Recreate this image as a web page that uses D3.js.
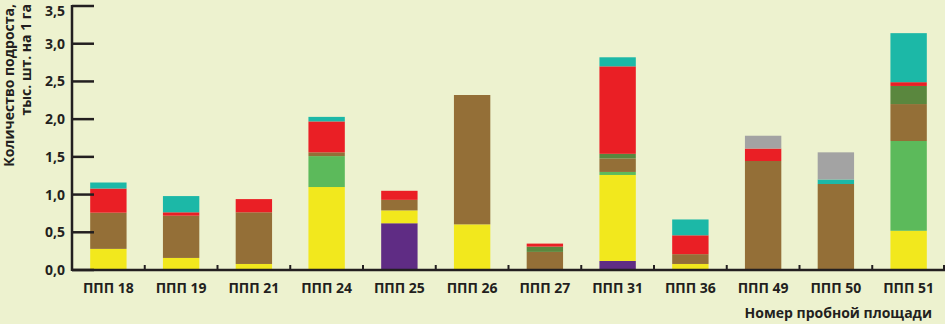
<!DOCTYPE html>
<html>
<head>
<meta charset="utf-8">
<script src="https://cdn.jsdelivr.net/npm/d3@7"></script>
<style>
  html, body { margin: 0; padding: 0; background: #edf2cf; }
  svg { display: block; }
  text { font-family: "Open Sans", "Noto Sans", sans-serif; font-weight: 700; fill: #231f20; }
</style>
</head>
<body>
<svg id="chart" width="945" height="324" viewBox="0 0 945 324"></svg>
<script>
// plots (categories)
const categories = ["ППП 18", "ППП 19", "ППП 21", "ППП 24", "ППП 25", "ППП 26",
  "ППП 27", "ППП 31", "ППП 36", "ППП 49", "ППП 50", "ППП 51"];

// stacked segments, bottom to top
const purple     = [0, 0, 0, 0, 0.62, 0, 0, 0.12, 0, 0, 0, 0];
const yellow     = [0.28, 0.16, 0.08, 1.10, 0.17, 0.605, 0, 1.14, 0.08, 0, 0, 0.52];
const lightGreen = [0, 0, 0, 0.41, 0, 0, 0, 0.04, 0, 0, 0, 1.19];
const brown      = [0.48, 0.56, 0.685, 0.05, 0.14, 1.715, 0.24, 0.18, 0.13, 1.445, 1.14, 0.49];
const darkGreen  = [0, 0, 0, 0, 0, 0, 0.07, 0.06, 0, 0, 0, 0.24];
const red        = [0.32, 0.045, 0.175, 0.41, 0.12, 0, 0.04, 1.16, 0.25, 0.165, 0, 0.05];
const cyan       = [0.08, 0.215, 0, 0.06, 0, 0, 0, 0.12, 0.21, 0, 0.06, 0.65];
const gray       = [0, 0, 0, 0, 0, 0, 0, 0, 0, 0.17, 0.36, 0];

const yTicks = [0, 0.5, 1, 1.5, 2, 2.5, 3, 3.5];

const seriesList = [
  { key: "purple", values: purple, color: "#5f2c84" },
  { key: "yellow", values: yellow, color: "#f2e81d" },
  { key: "lightGreen", values: lightGreen, color: "#5cba5b" },
  { key: "brown", values: brown, color: "#946f37" },
  { key: "darkGreen", values: darkGreen, color: "#5a873e" },
  { key: "red", values: red, color: "#ea1f25" },
  { key: "cyan", values: cyan, color: "#1cb8a7" },
  { key: "gray", values: gray, color: "#a3a3a3" },
];

const svg = d3.select("#chart");

const plotLeft = 72, plotRight = 945, plotTop = 6, plotBottom = 270;

// build table for d3.stack
const table = categories.map((c, i) => {
  const row = { cat: c };
  seriesList.forEach((s) => (row[s.key] = s.values[i]));
  return row;
});
const stacked = d3.stack().keys(seriesList.map((s) => s.key))(table);

const x = d3.scaleBand().domain(categories).range([plotLeft, plotRight]).paddingInner(0.5).paddingOuter(0.25);
const y = d3.scaleLinear().domain([0, 3.5]).range([plotBottom, plotTop]);

// bars
const layers = svg.append("g").attr("class", "bars")
  .selectAll("g")
  .data(stacked)
  .enter()
  .append("g")
  .attr("fill", (d, i) => seriesList[i].color);

layers.selectAll("rect")
  .data((d) => d.filter((p) => p[1] - p[0] > 0))
  .enter()
  .append("rect")
  .attr("x", (d) => x(d.data.cat))
  .attr("y", (d) => y(d[1]))
  .attr("width", x.bandwidth())
  .attr("height", (d) => y(d[0]) - y(d[1]));

// y axis: line + inward ticks
const yAxisG = svg.append("g").attr("class", "yAxis");
yAxisG.append("line")
  .attr("x1", plotLeft).attr("x2", plotLeft)
  .attr("y1", y(3.5) - 1).attr("y2", plotBottom + 1)
  .attr("stroke", "#231f20").attr("stroke-width", 2.5);
yAxisG.selectAll("line.tick")
  .data(yTicks)
  .enter()
  .append("line")
  .attr("class", "tick")
  .attr("x1", plotLeft).attr("x2", plotLeft + 22)
  .attr("y1", (d) => y(d)).attr("y2", (d) => y(d))
  .attr("stroke", "#231f20").attr("stroke-width", 2.5);
// top label nudged down a touch so it isn't clipped
yAxisG.selectAll("text")
  .data(yTicks)
  .enter()
  .append("text")
  .attr("x", plotLeft - 7)
  .attr("y", (d) => Math.max(y(d), 10.5))
  .attr("dy", "0.36em")
  .style("text-anchor", "end")
  .style("font-size", "14px")
  .text((d) => d3.format(".1f")(d).replace(".", ","));

// x axis: line + small ticks between categories
const xAxisG = svg.append("g").attr("class", "xAxis");
xAxisG.append("line")
  .attr("x1", plotLeft).attr("x2", plotRight)
  .attr("y1", plotBottom).attr("y2", plotBottom)
  .attr("stroke", "#231f20").attr("stroke-width", 2.5);
const step = x.step();
xAxisG.selectAll("line.tick")
  .data(categories.slice(1))
  .enter()
  .append("line")
  .attr("class", "tick")
  .attr("x1", (d) => x(d) - step * 0.25).attr("x2", (d) => x(d) - step * 0.25)
  .attr("y1", plotBottom).attr("y2", plotBottom - 5)
  .attr("stroke", "#231f20").attr("stroke-width", 2);
xAxisG.append("line")
  .attr("x1", plotRight - 1).attr("x2", plotRight - 1)
  .attr("y1", plotBottom).attr("y2", plotBottom - 5)
  .attr("stroke", "#231f20").attr("stroke-width", 2);
xAxisG.selectAll("text")
  .data(categories)
  .enter()
  .append("text")
  .attr("x", (d) => x(d) + x.bandwidth() / 2)
  .attr("y", 293)
  .style("text-anchor", "middle")
  .style("font-size", "14px")
  .text((d) => d);

// axis titles
svg.append("text")
  .attr("x", 932)
  .attr("y", 318)
  .style("text-anchor", "end")
  .style("font-size", "14px")
  .text("Номер пробной площади");

const yTitle = svg.append("g").attr("transform", "translate(0,4) rotate(-90)");
yTitle.append("text")
  .attr("x", 0).attr("y", 14)
  .style("text-anchor", "end")
  .style("font-size", "14px")
  .text("Количество подроста,");
yTitle.append("text")
  .attr("x", 0).attr("y", 31)
  .style("text-anchor", "end")
  .style("font-size", "14px")
  .text("тыс. шт. на 1 га");
</script>
</body>
</html>
